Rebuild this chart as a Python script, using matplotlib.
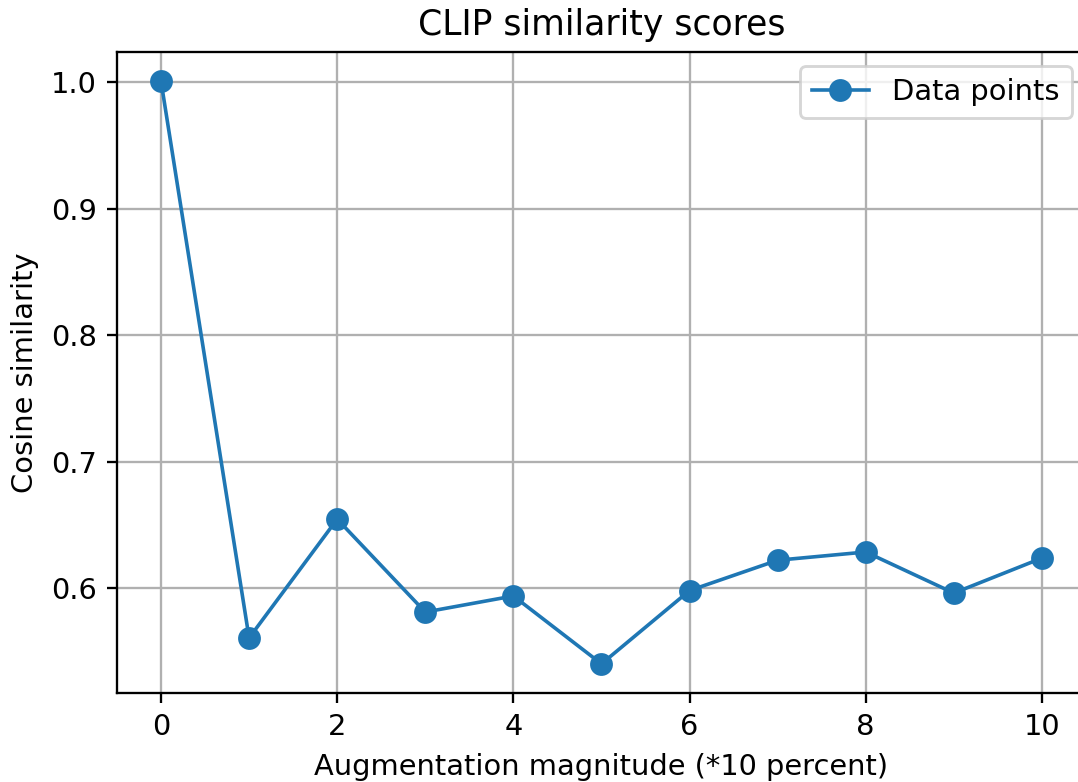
import matplotlib
matplotlib.use('Agg')
import matplotlib.pyplot as plt

# Augmentation magnitude (*10 percent) vs CLIP cosine similarity
magnitude = [0, 1, 2, 3, 4, 5, 6, 7, 8, 9, 10]
similarity = [1.001, 0.5605, 0.6545, 0.581, 0.5937, 0.540, 0.598, 0.622, 0.6285, 0.596, 0.6237]

dpi = 208
fig = plt.figure(figsize=(1078 / dpi, 782 / dpi), dpi=dpi)
# the original is cropped on the right, so the axes run past the image edge
ax = fig.add_axes([0.1085, 0.1138, 0.8989, 0.8197])

ax.plot(magnitude, similarity, marker='o', markersize=6.9, linewidth=1.25, label='Data points')
ax.set_xlabel('Augmentation magnitude (*10 percent)')
ax.set_ylabel('Cosine similarity')
ax.set_title('CLIP similarity scores')
ax.set_yticks([0.6, 0.7, 0.8, 0.9, 1.0])
ax.legend()
ax.grid(True)

fig.savefig('out.png', dpi=dpi)
